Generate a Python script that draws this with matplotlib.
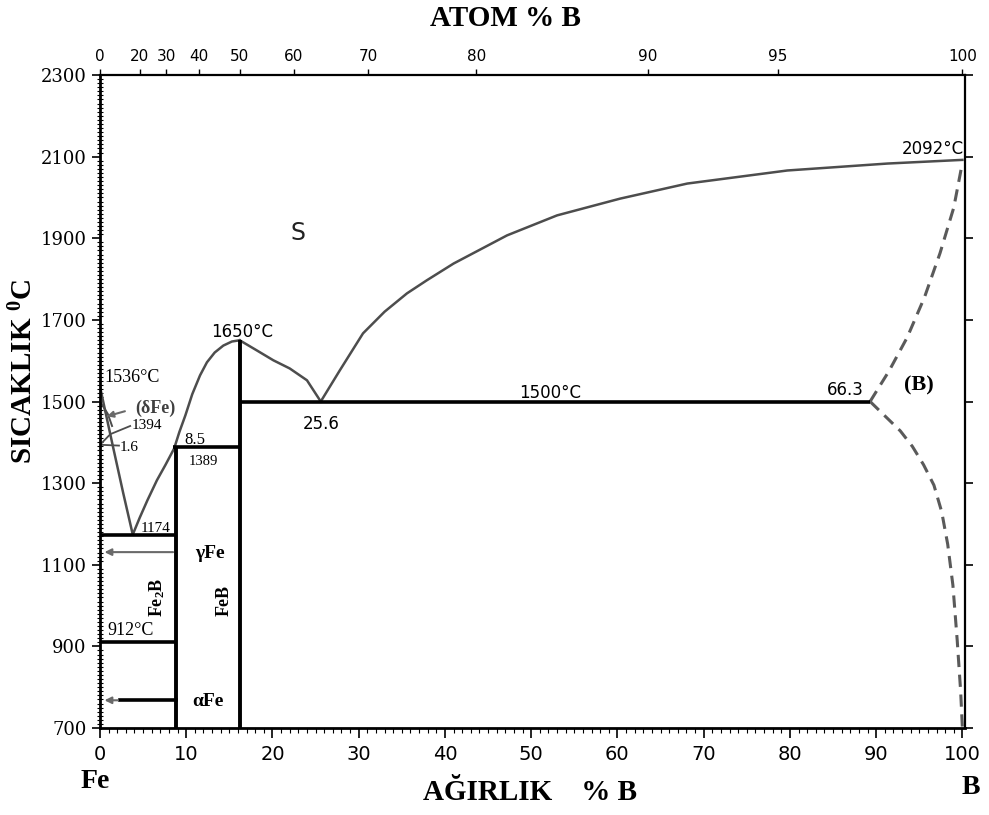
import numpy as np
import matplotlib
matplotlib.use("Agg")
import matplotlib.pyplot as plt
from matplotlib.ticker import MultipleLocator

plt.rcParams['mathtext.fontset'] = 'custom'
plt.rcParams['mathtext.rm'] = 'Liberation Serif'
plt.rcParams['mathtext.bf'] = 'Liberation Serif:bold'
plt.rcParams['mathtext.it'] = 'Liberation Serif:italic'

# ---- data ----
# liquidus, Fe side down to the eutectic
liq_fe_w = [0, 1.5, 2.7, 3.8]
liq_fe_t = [1536, 1390, 1275, 1174]
# liquidus eutectic -> FeB congruent maximum
liq_mid_w = [3.8, 4.6, 5.5, 6.6, 7.6, 8.6, 9.2, 9.9, 10.7, 11.6, 12.4, 13.3, 14.3, 15.3, 16.2]
liq_mid_t = [1174, 1215, 1258, 1307, 1345, 1385, 1425, 1466, 1518, 1564, 1596, 1620, 1637, 1647, 1650]
# FeB maximum -> eutectic 25.6
liq_feb_w = [16.2, 18.2, 20.1, 22.0, 24.0, 25.6]
liq_feb_t = [1650, 1625, 1601, 1581, 1552, 1500]
# eutectic 25.6 -> melting point of B
liq_b_w = [25.6, 27.8, 30.5, 33.0, 35.6, 37.9, 41.0, 47.2, 53.0, 60.3, 68.1, 79.7, 91.3, 100]
liq_b_t = [1500, 1576, 1667, 1720, 1765, 1797, 1838, 1907, 1956, 1997, 2034, 2066, 2083, 2092]
# dashed (B) boundaries
dash_up_w = [89.3, 91.5, 93.6, 95.6, 97.4, 99.0, 100]
dash_up_t = [1500, 1575, 1657, 1755, 1863, 1975, 2085]
dash_lo_w = [89.3, 91.0, 92.8, 94.2, 95.5, 96.7, 97.6, 98.3, 98.9, 99.4, 99.8, 100]
dash_lo_t = [1500, 1465, 1428, 1390, 1345, 1295, 1230, 1150, 1050, 915, 790, 700]
# horizontal invariant lines
iso_t = [1174, 912, 1389, 1500]
iso_w0 = [0, 0, 8.5, 16.2]
iso_w1 = [8.8, 8.8, 16.2, 89.3]
# compounds Fe2B and FeB
comp_w = [8.8, 16.2]
comp_top = [1389, 1650]
# gamma / alpha Fe marks
gamma_t = 1131
alpha_t = 768

temp_ticks = [700, 900, 1100, 1300, 1500, 1700, 1900, 2100, 2300]
wt_ticks = [0, 10, 20, 30, 40, 50, 60, 70, 80, 90, 100]
atom_ticks = [0, 20, 30, 40, 50, 60, 70, 80, 90, 95, 100]
M_B, M_FE = 10.81, 55.85


def at_to_wt(a):
    a = np.asarray(a, dtype=float)
    return 100 * a * M_B / (a * M_B + (100 - a) * M_FE)


# ---- figure ----
fig = plt.figure(figsize=(9.89, 8.15), dpi=100)
ax = fig.add_axes([0.1011, 0.1067, 0.8746, 0.8013])
ax.set_xlim(0, 100.3)
ax.set_ylim(700, 2300)

liq = dict(color='#4d4d4d', lw=1.8)
ax.plot(liq_fe_w, liq_fe_t, **liq)
ax.plot(liq_mid_w, liq_mid_t, **liq)
ax.plot(liq_feb_w, liq_feb_t, **liq)
ax.plot(liq_b_w, liq_b_t, **liq)

ax.plot(dash_up_w, dash_up_t, color='#5a5a5a', lw=2.2, ls=(0, (4, 2.5)))
ax.plot(dash_lo_w, dash_lo_t, color='#5a5a5a', lw=2.2, ls=(0, (4, 2.5)))

for t, w0, w1 in zip(iso_t, iso_w0, iso_w1):
    ax.plot([w0, w1], [t, t], color='black', lw=2.6, solid_capstyle='butt')
for w, top in zip(comp_w, comp_top):
    ax.plot([w, w], [700, top], color='black', lw=2.8, solid_capstyle='butt')

# gamma / alpha arrows
ax.annotate('', xy=(0.2, gamma_t), xytext=(8.8, gamma_t),
            arrowprops=dict(arrowstyle='-|>', color='#6a6a6a', lw=1.5, mutation_scale=10))
ax.plot([2.3, 8.8], [alpha_t, alpha_t], color='black', lw=2.6)
ax.annotate('', xy=(0.2, alpha_t), xytext=(2.4, alpha_t),
            arrowprops=dict(arrowstyle='-|>', color='#6a6a6a', lw=1.5, mutation_scale=10))
# delta Fe corner
ax.annotate('', xy=(0.5, 1462), xytext=(3.2, 1478),
            arrowprops=dict(arrowstyle='-|>', color='#6a6a6a', lw=1.5, mutation_scale=9))
ax.plot([0, 0.9, 1.4], [1500, 1470, 1440], color='#4d4d4d', lw=1.4)
ax.plot([0, 1.2, 3.5], [1394, 1420, 1440], color='#4d4d4d', lw=1.3)
ax.plot([0, 2.2], [1394, 1392], color='#4d4d4d', lw=1.3)

# ---- labels in the diagram ----
serif = 'Liberation Serif'
ax.text(0.5, 1560, '1536°C', fontsize=13, family=serif, va='center')
ax.text(6.4, 1484, '(δFe)', fontsize=13, family=serif, fontweight='bold',
        color='#404040', ha='center', va='center')
ax.text(5.5, 1440, '1394', fontsize=11, family=serif, ha='center', va='center')
ax.text(3.4, 1388, '1.6', fontsize=11, family=serif, ha='center', va='center')
ax.text(11.0, 1405, '8.5', fontsize=12, family=serif, ha='center', va='center')
ax.text(12.0, 1352, '1389', fontsize=10.5, family=serif, ha='center', va='center')
ax.text(6.5, 1188, '1174', fontsize=11, family=serif, ha='center', va='center')
ax.text(12.8, 1128, 'γFe', fontsize=14, family=serif, fontweight='bold', ha='center', va='center')
ax.text(6.6, 1021, r'Fe$_{\mathbf{2}}$B', fontsize=13, family=serif, fontweight='bold',
        ha='center', va='center', rotation=90)
ax.text(14.4, 1013, 'FeB', fontsize=13, family=serif, fontweight='bold',
        ha='center', va='center', rotation=90)
ax.text(3.6, 938, '912°C', fontsize=13, family=serif, ha='center', va='center')
ax.text(12.5, 766, 'αFe', fontsize=14, family=serif, fontweight='bold', ha='center', va='center')
ax.text(16.5, 1670, '1650°C', fontsize=12, ha='center', va='center')
ax.text(25.6, 1444, '25.6', fontsize=12, ha='center', va='center')
ax.text(52.2, 1522, '1500°C', fontsize=12, ha='center', va='center')
ax.text(88.6, 1527, '66.3', fontsize=12, ha='right', va='center')
ax.text(95.0, 1540, '(B)', fontsize=16, family=serif, fontweight='bold', ha='center', va='center')
ax.text(100.2, 2118, '2092°C', fontsize=12, ha='right', va='center')
ax.text(23.0, 1912, 'S', fontsize=17, ha='center', va='center', color='#222222')

# ---- axes ----
for s in ['left', 'bottom']:
    ax.spines[s].set_linewidth(2.0)
for s in ['top', 'right']:
    ax.spines[s].set_linewidth(1.6)

ax.set_xticks(wt_ticks)
ax.xaxis.set_minor_locator(MultipleLocator(1))
ax.set_yticks(temp_ticks)
ax.yaxis.set_minor_locator(MultipleLocator(10))
ax.tick_params(axis='x', which='major', direction='out', length=7, width=1.2,
               labelsize=14, pad=5, top=True)
ax.tick_params(axis='x', which='minor', direction='out', length=3.5, width=0.8, top=True)
ax.tick_params(axis='y', which='major', direction='out', length=6, width=1.2,
               labelsize=13, right=True)
ax.tick_params(axis='y', which='minor', direction='inout', length=5, width=0.8, right=False)
for lab in ax.get_yticklabels():
    lab.set_family('DejaVu Serif')

ax2 = ax.twiny()
ax2.set_xlim(ax.get_xlim())
ax2.set_xticks(at_to_wt(atom_ticks))
ax2.set_xticklabels([str(a) for a in atom_ticks])
ax2.tick_params(axis='x', direction='out', length=4, width=1, labelsize=11, pad=4)
for s in ax2.spines.values():
    s.set_visible(False)

fig.text(505 / 989, 1 - 18 / 815, 'ATOM % B', fontsize=21, family=serif,
         fontweight='bold', ha='center', va='center')
fig.text(530 / 989, 1 - 792 / 815, 'AĞIRLIK    % B', fontsize=21, family=serif,
         fontweight='bold', ha='center', va='center')
fig.text(95 / 989, 1 - 781 / 815, 'Fe', fontsize=20, family=serif,
         fontweight='bold', ha='center', va='center')
fig.text(971 / 989, 1 - 788 / 815, 'B', fontsize=20, family=serif,
         fontweight='bold', ha='center', va='center')
fig.text(24 / 989, 1 - 372 / 815, r'SICAKLIK $^{\mathbf{0}}$C', fontsize=21, family=serif,
         fontweight='bold', ha='center', va='center', rotation=90)

fig.savefig('out.png', dpi=100)
